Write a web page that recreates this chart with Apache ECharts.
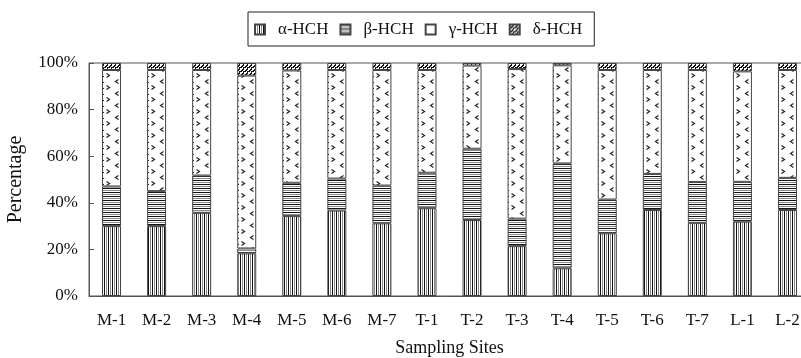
<!DOCTYPE html>
<html><head><meta charset="utf-8">
<script src="https://cdn.jsdelivr.net/npm/echarts@6/dist/echarts.min.js"></script>
<style>html,body{margin:0;padding:0;background:#fff}#c{width:801px;height:358px}</style>
</head><body><div id="c"></div>
<script>
const categories = ['M-1','M-2','M-3','M-4','M-5','M-6','M-7','T-1','T-2','T-3','T-4','T-5','T-6','T-7','L-1','L-2'];
const alphaHCH = [30.0, 30.0, 35.7, 18.3, 34.3, 36.7, 31.2, 37.7, 32.6, 21.4, 11.9, 26.9, 36.9, 31.4, 31.9, 36.9];
const betaHCH  = [17.0, 15.0, 16.0, 2.1, 14.3, 13.7, 16.2, 15.2, 30.6, 11.8, 45.0, 14.5, 15.5, 17.5, 17.1, 13.8];
const gammaHCH = [50.0, 52.0, 45.3, 74.2, 48.2, 46.6, 49.6, 44.1, 35.7, 64.2, 42.1, 55.6, 44.6, 48.1, 47.4, 46.3];
const deltaHCH = [3.0, 3.0, 3.0, 5.4, 3.2, 3.0, 3.0, 3.0, 1.1, 2.6, 1.0, 3.0, 3.0, 3.0, 3.6, 3.0];
const seriesNames = ['α-HCH','β-HCH','γ-HCH','δ-HCH'];
const yTicks = [0, 20, 40, 60, 80, 100];

function mk(w, h, draw) {
  const c = document.createElement('canvas'); c.width = w; c.height = h;
  const g = c.getContext('2d'); g.fillStyle = '#fff'; g.fillRect(0,0,w,h); draw(g); return c;
}
const pAlpha = mk(4, 4, g => { g.fillStyle='#111'; g.fillRect(0,0,1,4); g.fillStyle='#888'; g.fillRect(2,0,1,4); });
const pBeta = mk(4, 4, g => { g.fillStyle='#111'; g.fillRect(0,0,4,1); g.fillStyle='#888'; g.fillRect(0,2,4,1); });
const pGamma = mk(45, 12, g => {
  g.strokeStyle='#222'; g.lineWidth=1.2;
  g.beginPath(); g.moveTo(16.5,1.5); g.lineTo(19.5,3.5); g.lineTo(16.5,5.5); g.stroke();
  g.beginPath(); g.moveTo(28.5,7.5); g.lineTo(25.5,9.5); g.lineTo(28.5,11.5); g.stroke();
  g.fillStyle='#222'; g.fillRect(13,4,1,1); g.fillRect(13,10,1,1);
});
const pDelta = mk(4, 4, g => {
  g.fillStyle='#111';
  for (let i=0;i<4;i++){ g.fillRect(3-i,i,2,1); }
  g.fillRect(3,3,1,1);
});
const patterns = [pAlpha, pBeta, pGamma, pDelta];
const dataSets = [alphaHCH, betaHCH, gammaHCH, deltaHCH];
const font = 'Liberation Serif';

const chart = echarts.init(document.getElementById('c'));
chart.setOption({
  animation: false,
  textStyle: { fontFamily: font },
  legend: {
    top: 12, left: 248,
    padding: [9, 12, 8, 6],
    borderColor: '#222', borderWidth: 1,
    itemWidth: 10, itemHeight: 10, itemGap: 11,
    icon: 'rect',
    textStyle: { fontFamily: font, fontSize: 17, color: '#111', padding: [0, 0, 0, 8] },
    data: seriesNames
  },
  grid: { left: 89, top: 63, height: 233, width: 721, containLabel: false, outerBoundsMode: 'none',
    show: true, borderColor: '#555', borderWidth: 1, backgroundColor: 'transparent' },
  xAxis: {
    type: 'category', data: categories,
    name: 'Sampling Sites', nameLocation: 'middle', nameGap: 43,
    nameTextStyle: { fontFamily: font, fontSize: 18, color: '#111' },
    axisLine: { lineStyle: { color: '#555' } },
    axisTick: { inside: true, length: 5, lineStyle: { color: '#555' } },
    axisLabel: { fontFamily: font, fontSize: 17, color: '#111', margin: 16 }
  },
  yAxis: {
    type: 'value', min: 0, max: 100, interval: 20,
    name: 'Percentage', nameLocation: 'middle', nameGap: 63,
    nameTextStyle: { fontFamily: font, fontSize: 20, color: '#111' },
    axisLine: { show: true, lineStyle: { color: '#555' } },
    axisTick: { show: true, inside: true, length: 5, lineStyle: { color: '#555' } },
    splitLine: { show: false },
    axisLabel: { fontFamily: font, fontSize: 17, color: '#111', margin: 11,
      formatter: v => yTicks.indexOf(v) >= 0 ? v + '%' : '' }
  },
  series: seriesNames.map((n, i) => ({
    name: n, type: 'bar', stack: 'total', barWidth: 19,
    data: dataSets[i],
    itemStyle: { color: { image: patterns[i], repeat: 'repeat' }, borderColor: '#444', borderWidth: 1 }
  }))
});
</script></body></html>
